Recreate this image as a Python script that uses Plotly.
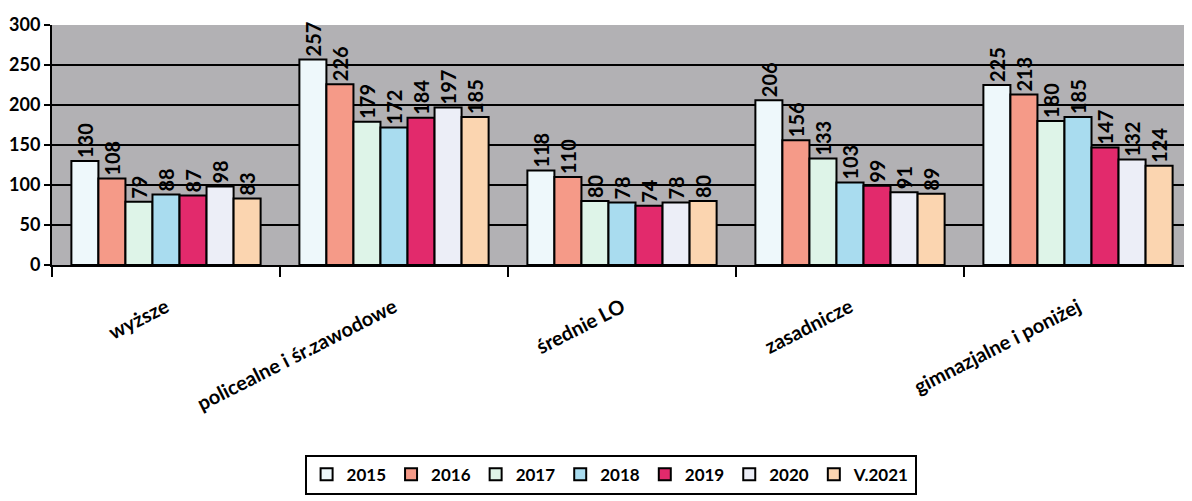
import plotly.graph_objects as go

categories = ["wyższe", "policealne i śr.zawodowe", "średnie LO", "zasadnicze", "gimnazjalne i poniżej"]
years = ["2015", "2016", "2017", "2018", "2019", "2020", "V.2021"]

v2015 = [130, 257, 118, 206, 225]
v2016 = [108, 226, 110, 156, 213]
v2017 = [79, 179, 80, 133, 180]
v2018 = [88, 172, 78, 103, 185]
v2019 = [87, 184, 74, 99, 147]
v2020 = [98, 197, 78, 91, 132]
v2021 = [83, 185, 80, 89, 124]

series = [v2015, v2016, v2017, v2018, v2019, v2020, v2021]
colors = ["#eef8fb", "#f59a88", "#def4e8", "#a9dcef", "#e22a6c", "#eceef7", "#fbd5b0"]

font = "Lato, 'Open Sans', sans-serif"

fig = go.Figure()
for name, vals, col in zip(years, series, colors):
    fig.add_trace(go.Bar(
        x=categories, y=vals, name=name,
        marker=dict(color=col, line=dict(color="black", width=2)),
        text=[str(v) for v in vals], textposition="outside", textangle=-90,
        constraintext="none", cliponaxis=False,
        textfont=dict(family=font, size=20, color="black", weight="bold"),
    ))

# page body has an 8px margin, so the figure is sized 8px smaller
fig.update_layout(
    width=1184, height=493,
    margin=dict(l=44, r=0, t=17, b=236, autoexpand=False),
    paper_bgcolor="white", plot_bgcolor="#b2b1b4",
    barmode="group", bargap=0.17, bargroupgap=0,
    font=dict(family=font, color="black"),
    showlegend=True,
    legend=dict(
        orientation="h", x=0.49, xanchor="center", y=-0.79, yanchor="top",
        bordercolor="black", borderwidth=2, bgcolor="white",
        font=dict(family=font, size=17, weight="bold"),
    ),
)
fig.update_xaxes(
    automargin=False,
    showline=True, linecolor="black", linewidth=2,
    ticks="outside", tickson="boundaries", ticklen=10, tickcolor="black", tickwidth=2,
    tickangle=-27, ticklabelstandoff=21,
    tickfont=dict(family=font, size=20, weight="bold"),
)
fig.update_yaxes(
    automargin=False,
    range=[0, 300], tickvals=[0, 50, 100, 150, 200, 250, 300],
    showgrid=True, gridcolor="black", gridwidth=2, zeroline=False,
    showline=True, linecolor="black", linewidth=2,
    ticks="outside", ticklen=6, tickcolor="black", tickwidth=2,
    tickfont=dict(family=font, size=18, weight="bold"),
)

fig.write_html("out.html")
